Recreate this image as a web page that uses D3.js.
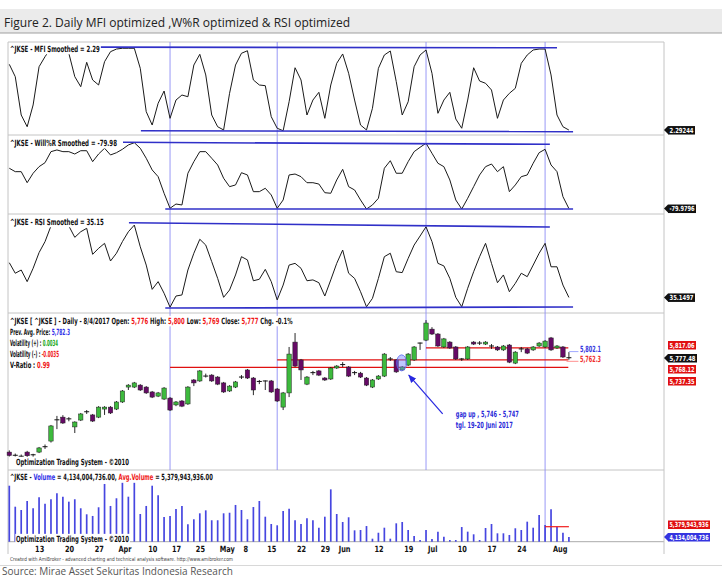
<!DOCTYPE html>
<html>
<head>
<meta charset="UTF-8">
<title>Figure 2. Daily MFI optimized, W%R optimized & RSI optimized</title>
<script src="https://d3js.org/d3.v7.min.js"></script>
<style>
  body { margin: 0; background: #fff; }
  svg text { font-family: "Liberation Sans Narrow", "DejaVu Sans Condensed", "Liberation Sans", sans-serif; }
  .lbl { font-size: 8.6px; font-weight: bold; fill: #111; }
  .tag { font-size: 7px; font-weight: bold; fill: #fff; }
</style>
</head>
<body>
<div id="chart"></div>
<script>
// ---- data ----
// trading days 7 Mar 2017 .. 4 Aug 2017, one entry per bar
const open  = [5391,5379,5376,5391,5376,5391,5411,5436,5521,5534, 5525,5494,5522,5554,5543,5534,5567,5575,5567,5596,
               5657,5657,5665,5657,5637,5620,5608,5612,5584,5600, 5588,5686,5682,5704,5706,5698,5674,5641,5657,5694,
               5727,5694,5678,5682,5682,5649,5575,5633,5841,5768, 5669,5714,5723,5694,5690,5735,5747,5739,5714,5714,
               5694,5657,5690,5702,5770,5768,5727,5747,5768,5837, 5849,5894,5874,5821,5841,5821,5770,5772,5841,5837,
               5833,5825,5821,5809,5829,5755,5813,5813,5809,5825, 5821,5858,5817,5821,5776];
const high  = [5398,5385,5381,5396,5384,5412,5422,5502,5539,5542, 5534,5517,5551,5563,5547,5579,5579,5579,5600,5645,
               5669,5678,5669,5661,5641,5637,5657,5616,5600,5604, 5661,5690,5727,5712,5710,5702,5678,5665,5682,5706,
               5731,5698,5686,5684,5686,5653,5637,5821,5878,5772, 5702,5723,5727,5698,5739,5747,5759,5743,5723,5719,
               5698,5690,5706,5796,5780,5772,5743,5796,5825,5839, 5931,5902,5878,5858,5845,5825,5776,5825,5845,5845,
               5845,5833,5825,5829,5833,5804,5821,5817,5825,5841, 5849,5862,5829,5825,5800];
const low   = [5373,5373,5370,5371,5372,5387,5404,5430,5485,5506, 5517,5469,5518,5547,5514,5530,5543,5547,5563,5592,
               5645,5653,5641,5629,5612,5616,5604,5559,5579,5575, 5584,5661,5678,5696,5678,5665,5633,5637,5653,5690,
               5690,5624,5669,5645,5633,5596,5563,5616,5739,5686, 5665,5706,5702,5682,5686,5731,5739,5698,5706,5694,
               5661,5653,5686,5698,5764,5715,5723,5743,5764,5809, 5845,5870,5821,5817,5813,5768,5764,5768,5829,5829,
               5829,5813,5805,5805,5755,5751,5800,5792,5805,5821, 5817,5805,5813,5776,5769];
const close = [5377,5378,5374,5376,5380,5408,5413,5498,5523,5510, 5527,5514,5547,5556,5518,5575,5575,5551,5596,5641,
               5665,5674,5645,5633,5616,5633,5653,5563,5596,5579, 5657,5674,5723,5702,5682,5669,5637,5661,5678,5698,
               5694,5645,5680,5682,5637,5600,5633,5792,5743,5727, 5698,5716,5706,5686,5735,5743,5749,5702,5716,5698,
               5665,5686,5702,5792,5772,5719,5739,5792,5821,5837, 5919,5874,5825,5854,5817,5772,5772,5821,5833,5837,
               5841,5825,5809,5825,5759,5800,5813,5796,5821,5837, 5845,5809,5825,5780,5777];
// volume in billions of shares
const volume = [10.34,7.80,7.40,8.49,7.61,8.94,8.16,8.70,9.42,9.01, 8.41,8.70,7.61,6.88,6.68,7.73,10.55,7.89,8.82,10.70,
                9.01,10.70,6.92,7.89,10.34,9.18,6.55,6.68,7.52,7.89, 5.67,6.28,7.00,7.36,6.16,6.16,7.00,7.07,8.01,7.40,
                6.28,7.76,8.49,6.59,5.71,5.55,7.28,7.56,6.16,5.71, 6.40,6.16,5.26,6.59,9.90,6.92,5.95,6.52,4.94,4.98,
                5.46,3.93,4.65,5.26,3.93,5.79,5.95,4.98,4.25,3.77, 4.98,3.89,4.78,4.17,3.77,3.77,5.34,4.78,4.46,3.77,
                5.22,5.71,4.58,4.58,4.38,5.19,4.98,5.99,5.26,6.80, 5.59,7.49,5.38,4.65,4.134];
const mfi = [79.6,65.1,20,6.2,31.8,76.8,88.6,98.8,100,97.6, 92.6,65.1,53.3,82,61.2,55.3,82.7,94.5,97.6,98.5,
             98.5,98.5,74.9,23.9,8.2,33.8,48.2,16.1,37.6,43.5, 41.5,78.8,91.4,67.1,20,6.2,2.4,45.5,78.8,92.6,
             95.6,61.2,55.3,54.5,18,4.4,1.5,35.6,75.6,61.2, 20,37.6,46.7,16.1,55.3,80.8,91.8,69.1,37.6,8.2,
             2.4,27.9,74.9,90.6,95.3,59.2,20,35.6,76.8,90.6, 96.5,69.1,22,37.6,46.7,15.3,4.4,37.6,75.6,60,
             57.3,49.4,16.1,37.6,45.5,51.4,80.8,90.6,96.5,97.6, 97.6,67.1,20,6.2,2.29];
const willr = [-37.3,-40.9,-40.9,-52.6,-42.6,-35.6,-31.4,-19.7,-17.9,-19.7, -19.7,-22.2,-18.7,-18.7,-30.3,-22.2,-16.1,-23.2,-20.8,-17.2,
               -12.6,-10.2,-16.1,-26.7,-39.1,-46.2,-63.8,-79.7,-75.2,-76.2, -42.6,-30.3,-19.7,-19.7,-26.7,-33.8,-47.9,-56.8,-55,-42,
               -44.4,-62.1,-62.1,-58.5,-65.6,-79.7,-70.9,-44.4,-43.4,-46.2, -52.6,-52.6,-54,-63.2,-63.8,-49.7,-38.4,-56.8,-60.3,-70.9,
               -80.5,-76.2,-69.1,-37.3,-29.3,-42.6,-42.6,-30.3,-19.7,-15.1, -10.8,-21.4,-32,-35.6,-49.7,-70.9,-80.5,-69.1,-56.8,-44.4,
               -35.6,-32.8,-40.9,-35.6,-62.1,-55,-46.2,-44.4,-32,-20.8, -17.2,-33.8,-40.9,-67.4,-79.98];
const rsi = [51.3,46.4,47.9,42.5,48.7,56,61.1,68.4,70.2,70.7, 68.4,63.1,65.7,67.3,55.2,58,60.3,52.1,55.7,61.1,
             65.7,68.8,58.7,50.2,38.9,42.5,37.1,30.6,35.8,36.3, 47.9,55.7,62.2,59.5,51.8,44,35.2,38.6,45.6,54.1,
             52.6,42.9,43.6,48.2,42.5,34,40.9,50.2,51,48.7, 42.9,43.3,42,35.8,43.3,51,57.2,46.4,44,37.8,
             30.8,34.7,44,54.1,55.7,47.1,46.7,53.3,59.5,63.7, 68,61.1,51,49.8,44,35.2,30.8,39.4,47.1,54.1,
             60.3,51,42,45.6,37.8,41.7,46.4,44.8,50.2,55.7, 60.3,49.4,49.4,40.9,35.15];

// date axis: bar index of each label
const tickIdx    = [4, 9, 14, 18, 23, 27, 31, 35, 39, 43, 48, 52, 55, 61, 66, 70, 75, 80, 85, 91];
const tickLabels = ["13","20","27","Apr","10","17","25","May","8","15","22","29","Jun","12","19","Jul","10","17","24","Aug"];

// blue vertical markers (bar index)
const markIdx = [27, 45, 70, 90];

// hand drawn channel lines: [startIdx, startVal, endIdx, endVal]
const mfiLines = [[15.2, 99.8, 92, 99.1], [22.1, 1.5, 94.7, 0.4]];
const wrLines  = [[19.1, -9.8, 90.8, -11.9], [26.2, -80.5, 94.7, -80.5]];
const rsiLines = [[20.1, 69.9, 90.8, 67.9], [26.2, 30.2, 94.7, 30.7]];
// red support / resistance levels: [startIdx, price]
const levels = [[27, 5737.35], [45, 5768.12], [70, 5817.06]];
const avgVolume = 5.379943936;

// ---- layout ----
var W = 722, H = 578;
var left = 8, right = 664;
var svg = d3.select('#chart').append('svg').attr('width', W).attr('height', H);

// title band
svg.append('rect').attr('x', 0).attr('y', 9).attr('width', W).attr('height', 24).attr('fill', '#ebebeb');
svg.append('line').attr('x1', 0).attr('x2', W).attr('y1', 33).attr('y2', 33).attr('stroke', '#a0a0a0').attr('stroke-width', 1.2);
svg.append('text').attr('x', 4).attr('y', 26.5)
  .style('font-family', '"Open Sans", "Noto Sans", sans-serif').style('font-size', '13.5px').attr('fill', '#222')
  .attr('textLength', 346).attr('lengthAdjust', 'spacingAndGlyphs')
  .text('Figure 2. Daily MFI optimized ,W%R optimized & RSI optimized');

var x = d3.scaleLinear().domain([0, 94]).range([9.3, 568.9]);

var yMfi = d3.scaleLinear().domain([0, 100]).range([132, 47]);
var yWr  = d3.scaleLinear().domain([-81, -10]).range([209.5, 142.5]);
var yRsi = d3.scaleLinear().domain([30, 70]).range([308.5, 222.5]);
var yPx  = d3.scaleLinear().domain([5330, 5960]).range([467, 313]);
var yVol = d3.scaleLinear().domain([3.565, 12.24]).range([541.7, 470]);

var g = svg.append('g');

// panel frame and separators
var gridCol = '#c4c4c4';
[42, 135, 214, 313, 470].forEach(function(yy) {
  g.append('line').attr('x1', left).attr('x2', right).attr('y1', yy).attr('y2', yy).attr('stroke', gridCol);
});
g.append('line').attr('x1', left).attr('x2', right).attr('y1', 541.7).attr('y2', 541.7).attr('stroke', '#aaa');
[left, right].forEach(function(xx) {
  g.append('line').attr('x1', xx).attr('x2', xx).attr('y1', 42).attr('y2', 554).attr('stroke', gridCol);
});

// vertical markers
markIdx.forEach(function(d, i) {
  g.append('line').attr('x1', x(d)).attr('x2', x(d)).attr('y1', 42)
    .attr('y2', i == markIdx.length - 1 ? 541.7 : 470)
    .attr('stroke', '#8c8cf5').attr('stroke-width', 0.9);
});

// indicator panels
function drawLine(values, y) {
  g.append('path').datum(values)
    .attr('d', d3.line().x((d, i) => x(i)).y(d => y(d)))
    .attr('fill', 'none').attr('stroke', '#1a1a1a').attr('stroke-width', 1);
}
function drawChannel(lines, y) {
  lines.forEach(function(l) {
    g.append('line').attr('x1', x(l[0])).attr('y1', y(l[1])).attr('x2', x(l[2])).attr('y2', y(l[3]))
      .attr('stroke', '#3030c8').attr('stroke-width', 1.6);
  });
}
drawLine(mfi, yMfi);   drawChannel(mfiLines, yMfi);
drawLine(willr, yWr);  drawChannel(wrLines, yWr);
drawLine(rsi, yRsi);   drawChannel(rsiLines, yRsi);

// red levels in price panel
levels.forEach(function(l) {
  g.append('line').attr('x1', x(l[0])).attr('x2', x(93.9)).attr('y1', yPx(l[1])).attr('y2', yPx(l[1]))
    .attr('stroke', '#e01010').attr('stroke-width', 1.2);
});

// candles
var bars = d3.range(open.length);
var cg = g.append('g');
cg.selectAll('line.wick').data(bars).enter().append('line')
  .attr('x1', i => x(i)).attr('x2', i => x(i))
  .attr('y1', i => yPx(high[i])).attr('y2', i => yPx(low[i]))
  .attr('stroke', '#111').attr('stroke-width', 0.9);
cg.selectAll('rect.body').data(bars.filter(i => Math.abs(yPx(open[i]) - yPx(close[i])) >= 1.2)).enter().append('rect')
  .attr('x', i => x(i) - 2.2).attr('width', 4.4)
  .attr('y', i => yPx(Math.max(open[i], close[i])))
  .attr('height', i => Math.abs(yPx(open[i]) - yPx(close[i])))
  .attr('fill', i => close[i] >= open[i] ? '#3dba3d' : '#660a66')
  .attr('stroke', '#222').attr('stroke-width', 0.5);
cg.selectAll('line.doji').data(bars.filter(i => Math.abs(yPx(open[i]) - yPx(close[i])) < 1.2)).enter().append('line')
  .attr('x1', i => x(i) - 2.5).attr('x2', i => x(i) + 2.5)
  .attr('y1', i => yPx(close[i])).attr('y2', i => yPx(close[i]))
  .attr('stroke', '#111').attr('stroke-width', 1);

// gap annotation
g.append('ellipse').attr('cx', x(65.9)).attr('cy', yPx(5756)).attr('rx', 5).attr('ry', 8)
  .attr('fill', 'rgba(110,130,255,0.45)').attr('stroke', '#5a6af0').attr('stroke-width', 0.8);
svg.append('defs').append('marker').attr('id', 'ah').attr('viewBox', '0 0 10 10')
  .attr('refX', 9).attr('refY', 5).attr('markerWidth', 7).attr('markerHeight', 7).attr('orient', 'auto')
  .append('path').attr('d', 'M0,1 L10,5 L0,9 z').attr('fill', '#2828e0');
g.append('line').attr('x1', x(72.8)).attr('y1', yPx(5547)).attr('x2', x(67.1)).attr('y2', yPx(5706))
  .attr('stroke', '#2828e0').attr('stroke-width', 1.2).attr('marker-end', 'url(#ah)');

// small price marks near last bar
g.append('line').attr('x1', x(94)).attr('x2', x(95.6)).attr('y1', yPx(5802.1)).attr('y2', yPx(5802.1)).attr('stroke', '#9fa8ff');
g.append('line').attr('x1', x(93.6)).attr('x2', x(95.6)).attr('y1', yPx(5762.3)).attr('y2', yPx(5762.3)).attr('stroke', '#ff9090');

// volume
g.selectAll('line.vol').data(bars).enter().append('line')
  .attr('x1', i => x(i)).attr('x2', i => x(i))
  .attr('y1', yVol(3.565)).attr('y2', i => yVol(volume[i]))
  .attr('stroke', '#4646e0').attr('stroke-width', 1.7);
g.append('line').attr('x1', x(90)).attr('x2', x(94)).attr('y1', yVol(avgVolume)).attr('y2', yVol(avgVolume))
  .attr('stroke', '#f01c1c').attr('stroke-width', 1.2);

// date axis
var axis = g.append('g').attr('transform', 'translate(1.5,' + 543 + ')')
  .call(d3.axisBottom(x).tickValues(tickIdx).tickFormat((d, i) => tickLabels[i]).tickSize(0));
axis.select('.domain').remove();
axis.selectAll('text').attr('class', 'lbl').attr('text-anchor', 'start').attr('dy', '0.71em').attr('y', 3)
  .attr('transform', 'scale(0.85,1)');

// texts: squeezed horizontally to the narrow face of the original
function label(xx, yy, parts, width, backed) {
  var lg = g.append('g');
  var t = lg.append('text').attr('class', 'lbl').attr('x', 0).attr('y', 0);
  parts.forEach(function(p) { t.append('tspan').style('fill', p[1] || '#111').text(p[0]); });
  var k = width ? width / t.node().getComputedTextLength() : 1;
  lg.attr('transform', 'translate(' + xx + ',' + yy + ') scale(' + k + ',1)');
  if (backed !== false) {
    var bb = t.node().getBBox();
    lg.insert('rect', 'text')
      .attr('x', bb.x - 1).attr('y', bb.y).attr('width', bb.width + 2).attr('height', bb.height).attr('fill', '#fff');
  }
  return t;
}
var red = '#f01818', blue = '#3030e8', green = '#18a818';
label(10, 52, [['^JKSE - MFI Smoothed = 2.29']], 90);
label(10, 146, [['^JKSE - Will%R Smoothed = -79.98']], 107);
label(10, 225, [['^JKSE - RSI Smoothed = 35.15']], 94);
label(10, 324, [['^JKSE [ ^JKSE ] - Daily - 8/4/2017 Open: '], ['5,776', red], [' High: '], ['5,800', red],
                [' Low: '], ['5,769', red], [' Close: '], ['5,777', red], [' Chg. -0.1%']], 283);
label(10, 335, [['Prev. Avg. Price: '], ['5,782.3', blue]], 60);
label(10, 346, [['Volatility (+) : '], ['0.0034', green]], 48);
label(10, 357, [['Volatility (-) : '], ['-0.0035', red]], 49);
label(10, 368, [['V-Ratio : '], ['0.99', red]], 40);
label(16, 465, [['Optimization Trading System - \u00a92010']], 113);
label(10, 480, [['^JKSE - '], ['Volume', blue], [' = 4,134,004,736.00, '], ['Avg.Volume', red], [' = 5,379,943,936.00']], 203);
label(16, 542, [['Optimization Trading System - \u00a92010']], 113);
label(x(75), yPx(5535), [['gap up , 5,746 - 5,747', '#2b2bd8']], 63, false);
label(x(75), yPx(5535) + 11, [['tgl. 19-20 Juni 2017', '#2b2bd8']], 57, false);
label(580, yPx(5802.1) + 0.5, [['5,802.1', '#3838e0']], 21, false);
label(580, yPx(5762.3) + 1, [['5,762.3', '#f03030']], 21, false);

// right hand value tags
function tag(yy, txt, col, arrow, w) {
  var gg = svg.append('g');
  var x0 = 668;
  if (arrow) {
    gg.append('path').attr('d', 'M' + (x0 - 4) + ',' + yy + ' L' + x0 + ',' + (yy - 4) + ' L' + x0 + ',' + (yy + 4) + ' z').attr('fill', col);
  }
  gg.append('rect').attr('x', x0).attr('y', yy - 4).attr('width', w).attr('height', 8.5).attr('fill', col);
  gg.append('text').attr('class', 'tag').attr('x', x0 + 1.5).attr('y', yy + 2.6)
    .attr('textLength', w - 3).attr('lengthAdjust', 'spacingAndGlyphs').text(txt);
}
tag(yMfi(2.29244), '2.29244', '#111', true, 27);
tag(yWr(-79.9796), '-79.9796', '#111', true, 28);
tag(yRsi(35.1497), '35.1497', '#111', true, 27);
tag(345, '5,817.06', '#e01010', false, 28);
tag(358, '5,777.48', '#111', true, 29);
tag(369, '5,768.12', '#e01010', false, 28);
tag(381, '5,737.35', '#e01010', false, 28);
tag(524.5, '5,379,943,936', '#e01010', false, 42);
tag(537, '4,134,004,736', '#3434e0', true, 42);

// footer
svg.append('text').attr('x', 10).attr('y', 561).style('font-size', '5.5px').attr('fill', '#444')
  .attr('textLength', 223).attr('lengthAdjust', 'spacingAndGlyphs')
  .text('Created with AmiBroker - advanced charting and technical analysis software. http://www.amibroker.com');
svg.append('line').attr('x1', 0).attr('x2', W).attr('y1', 565.5).attr('y2', 565.5).attr('stroke', '#d8d8d8');
svg.append('text').attr('x', 2).attr('y', 574.5)
  .style('font-family', '"Open Sans", "Noto Sans", sans-serif').style('font-size', '10px').attr('fill', '#555')
  .text('Source: Mirae Asset Sekuritas Indonesia Research');
</script>
</body>
</html>
